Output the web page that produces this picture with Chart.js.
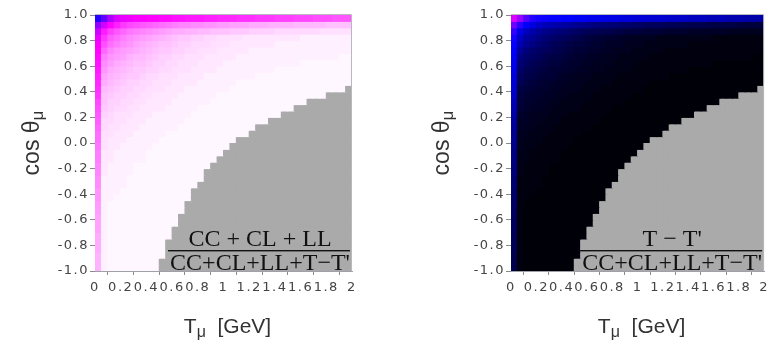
<!DOCTYPE html>
<html>
<head>
<meta charset="utf-8">
<script src="https://cdn.jsdelivr.net/npm/chart.js@4.4.1/dist/chart.umd.min.js"></script>
<style>
  html, body { margin: 0; padding: 0; background: #fff; }
  #wrap { position: relative; width: 774px; height: 341px; overflow: hidden; }
  .panel { position: absolute; top: 0; height: 341px; }
</style>
</head>
<body>
<div id="wrap">
  <div class="panel" style="left:0;width:387px"><canvas id="sharePanel" width="387" height="341"></canvas></div>
  <div class="panel" style="left:416px;width:358px"><canvas id="transPanel" width="358" height="341"></canvas></div>
</div>
<script>
// binning: T_mu 0..2 GeV, cos(theta_mu) -1..1, both 0.05 wide
var tStep = 0.05;
var cosStep = 0.05;
var nT = 40;

var tTicks = [0, 0.2, 0.4, 0.6, 0.8, 1, 1.2, 1.4, 1.6, 1.8, 2];
var tLabels = ['0', '0.2', '0.4', '0.6', '0.8', '1', '1.2', '1.4', '1.6', '1.8', '2'];
var cosTicks = [1, 0.8, 0.6, 0.4, 0.2, 0, -0.2, -0.4, -0.6, -0.8, -1];
var cosLabels = ['1.0', '0.8', '0.6', '0.4', '0.2', '0.0', '-0.2', '-0.4', '-0.6', '-0.8', '-1.0'];

// (T - T') share of the cross section in %, one row per cos bin
// starting at cos = 1.0, columns from T = 0. A row ends where the
// phase space ends; the missing cells are drawn grey.
var transShare = [
  [62,54,44,38,36,35,34,34,33,33,32,32,31,31,30,30,30,29,29,28,28,28,27,27,27,26,26,26,25,25,25,24,24,24,23,23,23,22,22,22],
  [48,39,33,29,26,24,23,22,21,20,19,18,17,16,16,15,15,14,14,13,13,12,12,12,11,11,11,10,10,10,10,9,9,9,9,9,8,8,8,8],
  [40,30,25,22,20,18,17,16,15,14,13,12,11,11,10,10,9,9,8,8,8,7,7,7,6,6,6,6,5,5,5,5,5,5,5,4,4,4,4,4],
  [36,26,21,19,17,15,14,13,12,11,10,9,8,7,7,6,6,5,5,4,4,4,4,3,3,3,3,3,3,3,3,3,2,2,2,2,2,2,2,2],
  [34,23,19,17,15,14,12,11,10,9,8,8,7,6,6,5,5,5,4,4,4,3,3,3,3,3,3,3,2,2,2,2,2,2,2,2,2,2,2,2],
  [33,20,16,14,13,12,11,10,9,8,7,7,6,6,5,5,4,4,4,3,3,3,3,3,2,2,2,2,2,2,2,2,2,2,2,2,2,2,2,2],
  [32,17,14,13,12,10,9,9,8,7,6,6,5,5,4,4,4,3,3,3,3,3,2,2,2,2,2,2,2,2,2,2,2,2,2,2,2,2,1,1],
  [31,15,13,11,10,9,8,8,7,6,6,5,5,4,4,4,3,3,3,3,2,2,2,2,2,2,2,2,2,2,2,2,1,1,1,1,1,1,1,1],
  [30,14,11,10,9,8,7,7,6,6,5,5,4,4,4,3,3,3,3,2,2,2,2,2,2,2,2,2,1,1,1,1,1,1,1,1,1,1,1,1],
  [29,12,10,9,8,7,7,6,5,5,4,4,4,3,3,3,3,2,2,2,2,2,2,2,2,1,1,1,1,1,1,1,1,1,1,1,1,1,1,1],
  [28,11,9,8,7,6,6,5,5,4,4,4,3,3,3,3,2,2,2,2,2,2,1,1,1,1,1,1,1,1,1,1,1,1,1,1,1,1,1,1],
  [27,9,8,7,6,6,5,5,4,4,4,3,3,3,2,2,2,2,2,2,2,1,1,1,1,1,1,1,1,1,1,1,1,1,1,1,1,1,1],
  [26,8,7,6,6,5,5,4,4,3,3,3,3,2,2,2,2,2,2,1,1,1,1,1,1,1,1,1,1,1,1,1,1,1,1,1],
  [24,8,6,6,5,5,4,4,3,3,3,3,2,2,2,2,2,2,1,1,1,1,1,1,1,1,1,1,1,1,1,1,1],
  [23,7,6,5,5,4,4,3,3,3,3,2,2,2,2,2,1,1,1,1,1,1,1,1,1,1,1,1,1,1,1],
  [22,6,5,4,4,4,3,3,3,2,2,2,2,2,2,1,1,1,1,1,1,1,1,1,1,1,1,1,1],
  [21,5,5,4,4,3,3,3,2,2,2,2,2,2,1,1,1,1,1,1,1,1,1,1,1,1,1],
  [20,5,4,4,3,3,3,2,2,2,2,2,2,1,1,1,1,1,1,1,1,1,1,1,1],
  [19,4,4,3,3,3,2,2,2,2,2,1,1,1,1,1,1,1,1,1,1,1,1,1],
  [19,4,3,3,3,2,2,2,2,2,1,1,1,1,1,1,1,1,1,1,1,1],
  [18,4,3,3,2,2,2,2,2,1,1,1,1,1,1,1,1,1,1,1,1],
  [17,3,3,2,2,2,2,2,1,1,1,1,1,1,1,1,1,1,1,1],
  [17,3,3,2,2,2,2,2,1,1,1,1,1,1,1,1,1,1,1],
  [16,3,2,2,2,2,1,1,1,1,1,1,1,1,1,1,1,1],
  [16,3,2,2,2,2,1,1,1,1,1,1,1,1,1,1,1],
  [15,2,2,2,2,1,1,1,1,1,1,1,1,1,1,1,1],
  [15,2,2,2,2,1,1,1,1,1,1,1,1,1,1,1],
  [14,2,2,2,1,1,1,1,1,1,1,1,1,1,1],
  [14,2,2,1,1,1,1,1,1,1,1,1,1,1,1],
  [13,2,1,1,1,1,1,1,1,1,1,1,1,1],
  [13,2,1,1,1,1,1,1,1,1,1,1,1,1],
  [12,2,1,1,1,1,1,1,1,1,1,1,1],
  [12,2,1,1,1,1,1,1,1,1,1,1,1],
  [12,2,1,1,1,1,1,1,1,1,1,1],
  [11,2,1,1,1,1,1,1,1,1,1,1],
  [11,2,1,1,1,1,1,1,1,1,1],
  [11,2,1,1,1,1,1,1,1,1,1],
  [10,2,1,1,1,1,1,1,1,1,1],
  [10,2,1,1,1,1,1,1,1,1],
  [10,2,1,1,1,1,1,1,1,1]
];

var noData = '#aaaaaa';

// black -> blue -> magenta -> white
function heat(v) {
  v = Math.max(0, Math.min(1, v));
  var r = 0, g = 0, b = 0;
  if (v < 1 / 3) { b = 765 * v; }
  else if (v < 2 / 3) { r = 255 * (3 * v - 1); b = 255; }
  else { r = 255; g = 255 * (3 * v - 2); b = 255; }
  return 'rgb(' + Math.round(r) + ',' + Math.round(g) + ',' + Math.round(b) + ')';
}

// one floating-bar dataset per cos row
function buildRows(complement) {
  var sets = [];
  for (var r = 0; r < transShare.length; r++) {
    var hi = 1 - r * cosStep, lo = hi - cosStep;
    var pts = [], cols = [];
    for (var c = 0; c < nT; c++) {
      pts.push({x: (c + 0.5) * tStep, y: [lo, hi]});
      var p = transShare[r][c];
      if (p === undefined) cols.push(noData);
      else cols.push(heat(complement ? 1 - p / 100 : p / 100));
    }
    sets.push({data: pts, backgroundColor: cols});
  }
  return sets;
}

var decor = {
  id: 'decor',
  beforeUpdate: function (chart) {
    chart.ctx.letterSpacing = '1.5px';
  },
  beforeDraw: function (chart) {
    chart.ctx.letterSpacing = '1.5px';
  },
  afterDraw: function (chart, args, o) {
    var ctx = chart.ctx, a = chart.chartArea;
    ctx.save();
    ctx.letterSpacing = '0px';
    // top and right edges of the frame
    ctx.strokeStyle = '#b8b8c0';
    ctx.lineWidth = 1;
    ctx.beginPath();
    ctx.moveTo(a.left, a.top - 0.5);
    ctx.lineTo(a.right - 0.5, a.top - 0.5);
    ctx.lineTo(a.right - 0.5, a.bottom);
    ctx.stroke();

    ctx.fillStyle = '#333';
    ctx.textBaseline = 'alphabetic';
    var big = '21px "Liberation Sans", Arial, sans-serif';
    var small = '16px "Liberation Sans", Arial, sans-serif';

    // x title: T_mu [GeV]
    ctx.font = big;
    var wT = ctx.measureText('T').width, wG = ctx.measureText('  [GeV]').width;
    ctx.font = small;
    var wMu = ctx.measureText('\u03bc').width;
    var x0 = (a.left + a.right) / 2 + 4 - (wT + wMu + wG) / 2;
    var yb = 333;
    ctx.font = big; ctx.fillText('T', x0, yb);
    ctx.font = small; ctx.fillText('\u03bc', x0 + wT, yb + 4);
    ctx.font = big; ctx.fillText('  [GeV]', x0 + wT + wMu, yb);

    // y title: cos theta_mu
    var ybig = '23px "Liberation Sans", Arial, sans-serif';
    var ysmall = '17px "Liberation Sans", Arial, sans-serif';
    ctx.save();
    ctx.translate(o.yTitleX, (a.top + a.bottom) / 2);
    ctx.rotate(-Math.PI / 2);
    ctx.font = ybig;
    var wc = ctx.measureText('cos \u03b8').width;
    ctx.font = ysmall;
    var wm = ctx.measureText('\u03bc').width;
    var s0 = -(wc + wm) / 2;
    ctx.font = ybig; ctx.fillText('cos \u03b8', s0, 8);
    ctx.font = ysmall; ctx.fillText('\u03bc', s0 + wc, 12);
    ctx.restore();

    // fraction caption
    var cx = a.right - 92;
    ctx.font = '24px "Liberation Serif", "Times New Roman", serif';
    ctx.textAlign = 'center';
    ctx.fillStyle = '#111';
    ctx.fillText(o.num, cx, 246);
    ctx.fillText('CC+CL+LL+T\u2212T\'', cx, 270);
    ctx.fillRect(a.right - 184, 250, 182, 1.4);
    ctx.restore();
  }
};

function panel(id, complement, num, yTitleX, padRight) {
  var tickFont = {family: '"DejaVu Sans", Verdana, sans-serif', size: 13};
  return new Chart(document.getElementById(id), {
    type: 'bar',
    data: {datasets: buildRows(complement)},
    options: {
      responsive: false,
      animation: false,
      events: [],
      grouped: false,
      barPercentage: 1,
      categoryPercentage: 1,
      borderWidth: 0,
      inflateAmount: 0.5,
      layout: {padding: {top: 15, right: padRight, bottom: 0, left: 0}},
      plugins: {
        legend: {display: false},
        tooltip: {enabled: false},
        decor: {num: num, yTitleX: yTitleX}
      },
      scales: {
        x: {
          type: 'linear', min: 0, max: 2, offset: false,
          afterBuildTicks: function (s) { s.ticks = tTicks.map(function (v) { return {value: v}; }); },
          afterFit: function (s) { s.height = 70; },
          ticks: {
            font: tickFont, color: '#444', padding: 5, maxRotation: 0, autoSkip: false,
            callback: function (v) { return tLabels[tTicks.indexOf(v)]; }
          },
          grid: {drawOnChartArea: false, tickLength: 4, color: '#8a8a8a'},
          border: {color: '#a0a0a8'}
        },
        y: {
          type: 'linear', min: -1, max: 1,
          afterBuildTicks: function (s) { s.ticks = cosTicks.map(function (v) { return {value: v}; }); },
          afterFit: function (s) { s.width = 95; },
          ticks: {
            font: tickFont, color: '#444', padding: 1, autoSkip: false,
            callback: function (v) { return cosLabels[cosTicks.indexOf(v)]; }
          },
          grid: {drawOnChartArea: false, tickLength: 5, color: '#8a8a8a'},
          border: {color: '#a0a0a8'}
        }
      }
    },
    plugins: [decor]
  });
}

panel('sharePanel', true, 'CC + CL + LL', 31, 35);
panel('transPanel', false, 'T \u2212 T\'', 25, 6);
</script>
</body>
</html>
